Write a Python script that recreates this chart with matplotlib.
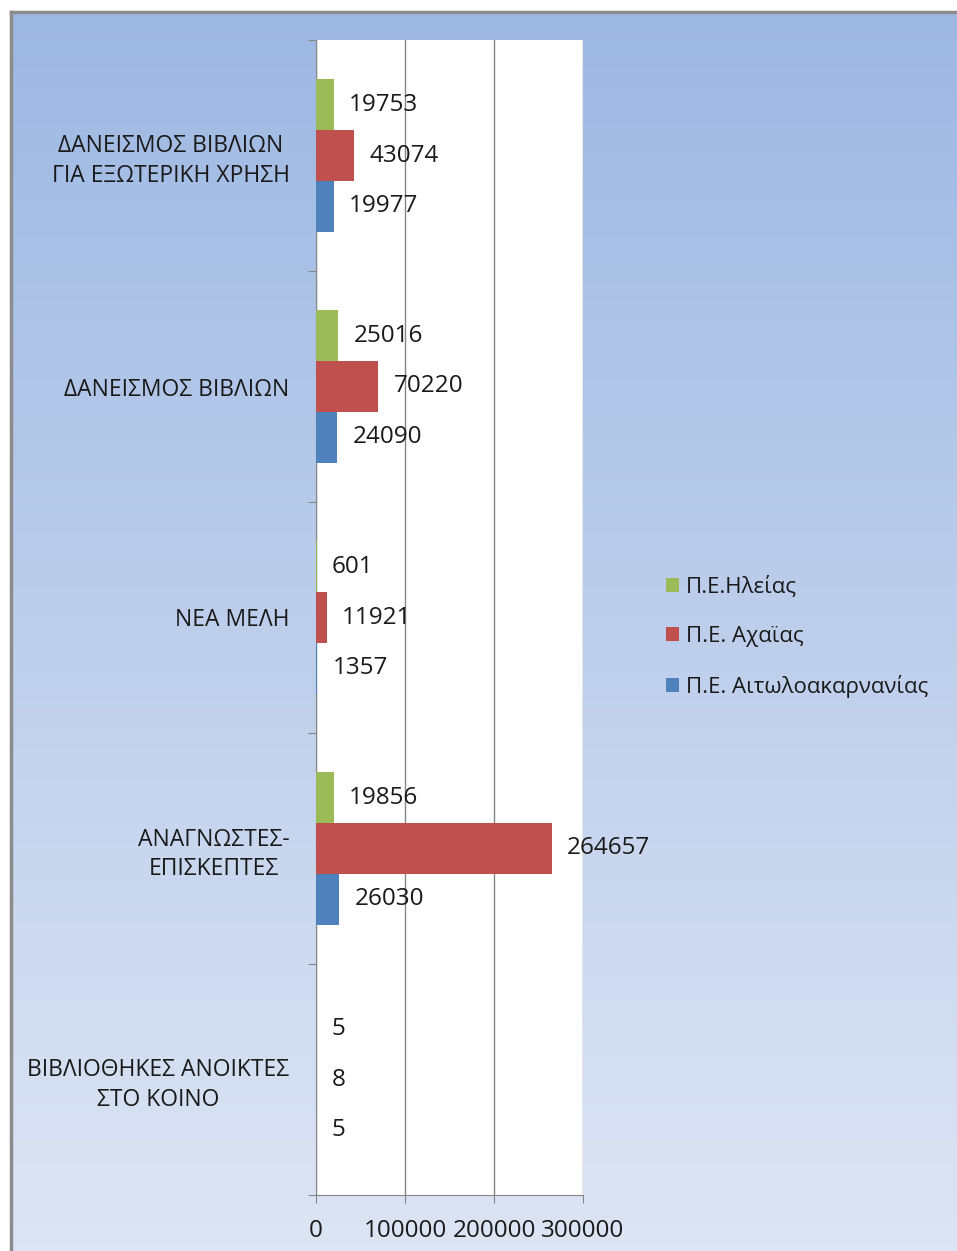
import matplotlib.pyplot as plt
import numpy as np
from matplotlib.lines import Line2D

plt.rcParams['font.family'] = ['Open Sans', 'DejaVu Sans']

categories = ["ΒΙΒΛΙΟΘΗΚΕΣ ΑΝΟΙΚΤΕΣ\nΣΤΟ ΚΟΙΝΟ", "ΑΝΑΓΝΩΣΤΕΣ-\nΕΠΙΣΚΕΠΤΕΣ", "ΝΕΑ ΜΕΛΗ",
              "ΔΑΝΕΙΣΜΟΣ ΒΙΒΛΙΩΝ", "ΔΑΝΕΙΣΜΟΣ ΒΙΒΛΙΩΝ\nΓΙΑ ΕΞΩΤΕΡΙΚΗ ΧΡΗΣΗ"]
ileia = [5, 19856, 601, 25016, 19753]
achaia = [8, 264657, 11921, 70220, 43074]
aitoloakarnania = [5, 26030, 1357, 24090, 19977]
series_names = ["Π.Ε.Ηλείας", "Π.Ε. Αχαϊας", "Π.Ε. Αιτωλοακαρνανίας"]
x_ticks = [0, 100000, 200000, 300000]

colors = ['#9BBB59', '#C0504D', '#4F81BD']

W, H = 957, 1251
fig = plt.figure(figsize=(W / 100, H / 100), dpi=100)
fig.patch.set_facecolor('white')

# gradient background of the chart area
bg = fig.add_axes([10 / W, 0, 1 - 10 / W, (H - 11) / H])
top = np.array([157, 184, 227]) / 255
bot = np.array([221, 229, 244]) / 255
t = np.linspace(0, 1, 256)[:, None]
grad = top[None, :] * (1 - t) + bot[None, :] * t
bg.imshow(grad[:, None, :], aspect='auto', extent=[0, 1, 0, 1])
bg.set_axis_off()
fig.add_artist(Line2D([11 / W, 11 / W], [0, (H - 12) / H], color='#8c8c8c', lw=2.5))
fig.add_artist(Line2D([11 / W, 1], [(H - 12) / H, (H - 12) / H], color='#8c8c8c', lw=2.5))

ax = fig.add_axes([316 / W, 1 - 1195 / H, (583 - 316) / W, (1195 - 40) / H])
ax.set_facecolor('white')

y = np.arange(len(categories))
h = 0.22
offsets = [h, 0, -h]
all_vals = [ileia, achaia, aitoloakarnania]
for vals, off, c, name in zip(all_vals, offsets, colors, series_names):
    ax.barh(y + off, vals, height=h, color=c, label=name, zorder=3)
    for yi, v in zip(y, vals):
        ax.annotate(str(v), (v, yi + off), xytext=(11, 0), textcoords='offset points',
                    va='center', ha='left', fontsize=17.5, color='#1a1a1a', zorder=5)

ax.set_xlim(0, 300000)
ax.set_ylim(-0.5, len(categories) - 0.5)
ax.set_xticks(x_ticks)
ax.set_xticklabels([str(v) for v in x_ticks], fontsize=17.5, color='#1a1a1a')
ax.tick_params(axis='x', length=6, color='#868686', pad=11)
ax.grid(axis='x', color='#868686', lw=1, zorder=1)

ax.set_yticks(np.arange(-0.5, len(categories), 1))
ax.set_yticklabels([])
ax.tick_params(axis='y', which='major', length=6, color='#868686')
ax.set_yticks(y, minor=True)
ax.set_yticklabels(categories, minor=True, fontsize=16.5, color='#1a1a1a',
                   multialignment='center', linespacing=1.3)
ax.tick_params(axis='y', which='minor', length=0, pad=19)

for s in ['top', 'right']:
    ax.spines[s].set_visible(False)
for s in ['left', 'bottom']:
    ax.spines[s].set_color('#868686')

handles, labels = ax.get_legend_handles_labels()
fig.legend(handles, labels, loc='center left', bbox_to_anchor=(646 / W, 1 - 637 / H),
           frameon=False, fontsize=16, handlelength=0.6, handleheight=0.6,
           handletextpad=0.3, labelspacing=1.25, labelcolor='#1a1a1a')

fig.savefig('out.png', dpi=100)
